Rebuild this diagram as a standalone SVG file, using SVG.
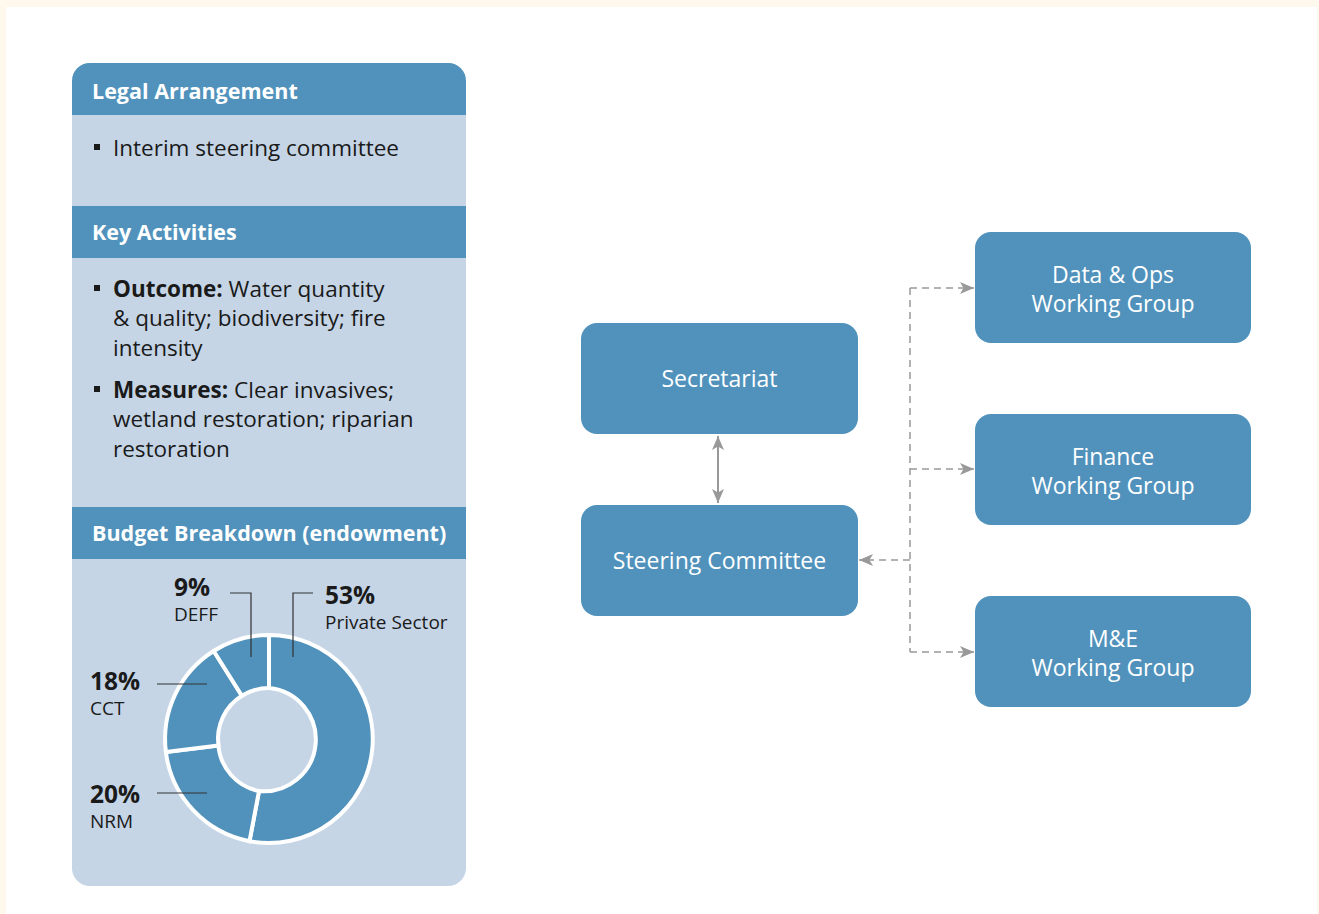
<svg xmlns="http://www.w3.org/2000/svg" width="1319" height="914" viewBox="0 0 1319 914">
<defs>
<style>
.hd{font-family:"Open Sans","Liberation Sans",sans-serif;font-weight:bold;font-size:21.5px;fill:#fff;}
.bd{font-family:"Open Sans","Liberation Sans",sans-serif;font-size:22.5px;fill:#1a1a1a;}
.node rect{fill:#5092BC;}
.nt{font-family:"Open Sans","Liberation Sans",sans-serif;font-size:23px;fill:#fff;text-anchor:middle;}
.dash{fill:none;stroke:#999;stroke-width:1.5;stroke-dasharray:7 5;}
.solid{fill:none;stroke:#999;stroke-width:2;}
.seg{fill:#5092BC;stroke:#fff;stroke-width:4;stroke-linejoin:miter;}
.ld{fill:none;stroke:#333;stroke-width:1.2;}
.pct{font-family:"Open Sans","Liberation Sans",sans-serif;font-weight:bold;font-size:24.5px;fill:#1a1a1a;}
.lb{font-family:"Open Sans","Liberation Sans",sans-serif;font-size:19px;fill:#1a1a1a;}
</style>
<marker id="ah" viewBox="0 0 14 12" refX="14" refY="6" markerWidth="14" markerHeight="12" markerUnits="userSpaceOnUse" orient="auto-start-reverse">
<path d="M0,0 L14,6 L0,12 L3.5,6 Z" fill="#999"/>
</marker>
</defs>
<rect x="0" y="0" width="1319" height="914" fill="#FFF8EC"/>
<rect x="6" y="7" width="1311" height="907" fill="#fff"/>

<g id="left-panel">
<path d="M72,886 V81 A18,18 0 0 1 90,63 H448 A18,18 0 0 1 466,81 V868 A18,18 0 0 1 448,886 H90 A18,18 0 0 1 72,868 Z" fill="#C5D5E6"/>
<path d="M72,115 V81 A18,18 0 0 1 90,63 H448 A18,18 0 0 1 466,81 V115 Z" fill="#5092BC"/>
<rect x="72" y="206" width="394" height="52" fill="#5092BC"/>
<rect x="72" y="507" width="394" height="52" fill="#5092BC"/>
<text class="hd" x="92" y="99">Legal Arrangement</text>
<text class="hd" x="92" y="240">Key Activities</text>
<text class="hd" x="92" y="541">Budget Breakdown (endowment)</text>
<rect x="94" y="144" width="6" height="6" fill="#1a1a1a"/>
<text class="bd" x="113" y="156">Interim steering committee</text>
<rect x="94" y="285" width="6" height="6" fill="#1a1a1a"/>
<text class="bd" x="113" y="297"><tspan font-weight="bold">Outcome:</tspan> Water quantity</text>
<text class="bd" x="113" y="326">&amp; quality; biodiversity; fire</text>
<text class="bd" x="113" y="356">intensity</text>
<rect x="94" y="386" width="6" height="6" fill="#1a1a1a"/>
<text class="bd" x="113" y="398"><tspan font-weight="bold">Measures:</tspan> Clear invasives;</text>
<text class="bd" x="113" y="427">wetland restoration; riparian</text>
<text class="bd" x="113" y="457">restoration</text>
</g>

<g id="donut">
<path class="seg" d="M269,635 A104,104 0 1 1 249.5,841.2 L259.0,791.1 A51,51 0 1 0 269,688 Z"/>
<path class="seg" d="M249.5,841.2 A104,104 0 0 1 165.9,752.0 L218.4,745.4 A51,51 0 0 0 259.0,791.1 Z"/>
<path class="seg" d="M165.9,752.0 A104,104 0 0 1 213.7,651.0 L241.9,695.8 A51,51 0 0 0 218.4,745.4 Z"/>
<path class="seg" d="M213.7,651.0 A104,104 0 0 1 269,635 L269,688 A51,51 0 0 0 241.9,695.8 Z"/>
<polyline class="ld" points="230,593 251,593 251,657"/>
<polyline class="ld" points="313,593 293,593 293,657"/>
<line class="ld" x1="157" y1="684" x2="207" y2="684"/>
<line class="ld" x1="157" y1="793" x2="207" y2="793"/>
<text class="pct" x="174" y="596">9%</text>
<text class="lb" x="174" y="621">DEFF</text>
<text class="pct" x="325" y="604">53%</text>
<text class="lb" x="325" y="629">Private Sector</text>
<text class="pct" x="90" y="690">18%</text>
<text class="lb" x="90" y="715">CCT</text>
<text class="pct" x="90" y="803">20%</text>
<text class="lb" x="90" y="828">NRM</text>
</g>

<g id="connectors">
<line class="solid" x1="718" y1="436" x2="718" y2="503" marker-start="url(#ah)" marker-end="url(#ah)"/>
<polyline class="dash" points="910,288 910,652"/>
<line class="dash" x1="910" y1="288" x2="974" y2="288" marker-end="url(#ah)"/>
<line class="dash" x1="910" y1="469" x2="974" y2="469" marker-end="url(#ah)"/>
<line class="dash" x1="910" y1="652" x2="974" y2="652" marker-end="url(#ah)"/>
<line class="dash" x1="910" y1="560" x2="859" y2="560" marker-end="url(#ah)"/>
</g>

<g id="secretariat" class="node"><rect x="581" y="323" width="277" height="111" rx="16"/><text class="nt" x="719.5" y="387">Secretariat</text></g>
<g id="steering-committee" class="node"><rect x="581" y="505" width="277" height="111" rx="16"/><text class="nt" x="719.5" y="569">Steering Committee</text></g>
<g id="data-ops" class="node"><rect x="975" y="232" width="276" height="111" rx="16"/><text class="nt" x="1113" y="283">Data &amp; Ops</text><text class="nt" x="1113" y="312">Working Group</text></g>
<g id="finance" class="node"><rect x="975" y="414" width="276" height="111" rx="16"/><text class="nt" x="1113" y="465">Finance</text><text class="nt" x="1113" y="494">Working Group</text></g>
<g id="me" class="node"><rect x="975" y="596" width="276" height="111" rx="16"/><text class="nt" x="1113" y="647">M&amp;E</text><text class="nt" x="1113" y="676">Working Group</text></g>
</svg>
